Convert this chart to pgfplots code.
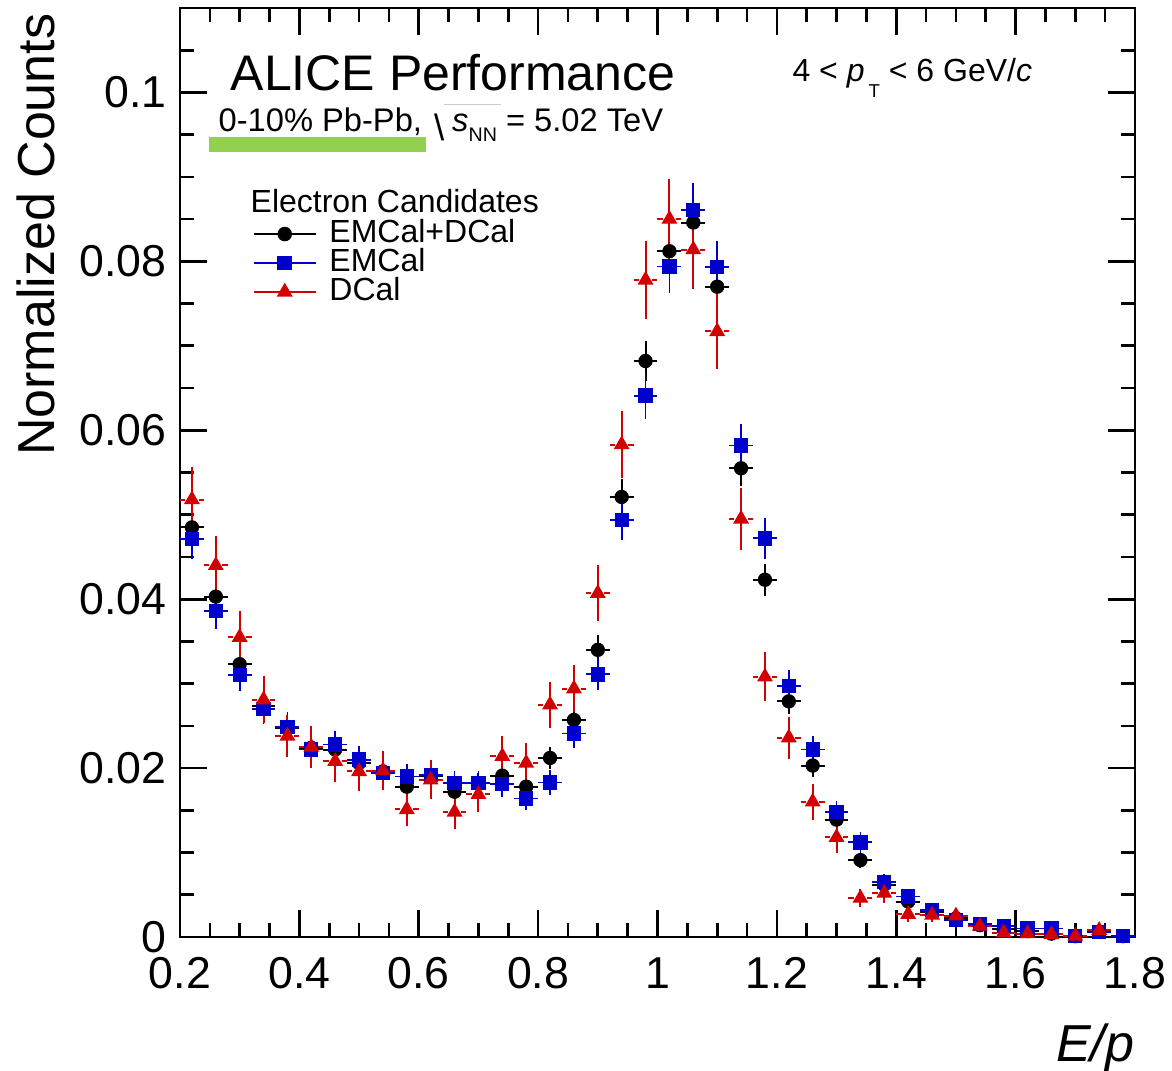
\documentclass[border=0pt]{standalone}
\usepackage{pgfplots}
\usepackage{pgfplotstable}
\pgfplotsset{compat=1.18}
\usepackage{fontspec}
\setmainfont{Liberation Sans}
\definecolor{rblue}{RGB}{0,0,204}
\definecolor{rred}{RGB}{210,0,0}
\definecolor{lgreen}{RGB}{146,208,80}

\pgfplotstableread{
x y ey
0.22 0.0485 0.0020
0.26 0.0403 0.0018
0.30 0.0323 0.0016
0.34 0.0273 0.0015
0.38 0.0247 0.0014
0.42 0.0224 0.0013
0.46 0.0222 0.0013
0.50 0.0206 0.0013
0.54 0.0196 0.0013
0.58 0.0178 0.0012
0.62 0.0191 0.0012
0.66 0.0172 0.0012
0.70 0.0182 0.0012
0.74 0.0191 0.0012
0.78 0.0178 0.0012
0.82 0.0212 0.0013
0.86 0.0257 0.0014
0.90 0.0340 0.0017
0.94 0.0521 0.0021
0.98 0.0682 0.0024
1.02 0.0812 0.0026
1.06 0.0846 0.0026
1.10 0.0770 0.0025
1.14 0.0555 0.0021
1.18 0.0423 0.0019
1.22 0.0279 0.0015
1.26 0.0203 0.0013
1.30 0.0139 0.0011
1.34 0.0091 0.0009
1.38 0.0062 0.0007
1.42 0.0042 0.0006
1.46 0.0030 0.0005
1.50 0.0022 0.0004
1.54 0.0014 0.0003
1.58 0.0009 0.0003
1.62 0.0007 0.0002
1.66 0.0004 0.0002
1.70 0.0001 0.0001
1.74 0.0006 0.0002
1.78 0.0001 0.0001
}\tabAll

\pgfplotstableread{
x y ey
0.22 0.0471 0.0024
0.26 0.0386 0.0021
0.30 0.0310 0.0019
0.34 0.0270 0.0018
0.38 0.0249 0.0017
0.42 0.0222 0.0016
0.46 0.0228 0.0016
0.50 0.0210 0.0016
0.54 0.0194 0.0015
0.58 0.0190 0.0015
0.62 0.0192 0.0015
0.66 0.0182 0.0015
0.70 0.0182 0.0015
0.74 0.0181 0.0015
0.78 0.0164 0.0014
0.82 0.0183 0.0015
0.86 0.0241 0.0017
0.90 0.0311 0.0019
0.94 0.0494 0.0024
0.98 0.0641 0.0028
1.02 0.0794 0.0031
1.06 0.0861 0.0032
1.10 0.0793 0.0031
1.14 0.0582 0.0026
1.18 0.0472 0.0024
1.22 0.0297 0.0019
1.26 0.0222 0.0016
1.30 0.0148 0.0013
1.34 0.0112 0.0012
1.38 0.0065 0.0009
1.42 0.0048 0.0008
1.46 0.0032 0.0006
1.50 0.0020 0.0005
1.54 0.0015 0.0004
1.58 0.0013 0.0004
1.62 0.0010 0.0003
1.66 0.0010 0.0003
1.70 0.0001 0.0001
1.74 0.0006 0.0003
1.78 0.0001 0.0001
}\tabEMC

\pgfplotstableread{
x y ey
0.22 0.0518 0.0038
0.26 0.0440 0.0035
0.30 0.0355 0.0031
0.34 0.0281 0.0028
0.38 0.0238 0.0025
0.42 0.0225 0.0025
0.46 0.0208 0.0024
0.50 0.0196 0.0023
0.54 0.0197 0.0023
0.58 0.0151 0.0020
0.62 0.0186 0.0023
0.66 0.0148 0.0020
0.70 0.0169 0.0021
0.74 0.0214 0.0024
0.78 0.0206 0.0024
0.82 0.0275 0.0027
0.86 0.0294 0.0028
0.90 0.0407 0.0033
0.94 0.0583 0.0040
0.98 0.0778 0.0046
1.02 0.0850 0.0048
1.06 0.0814 0.0047
1.10 0.0717 0.0044
1.14 0.0495 0.0037
1.18 0.0308 0.0029
1.22 0.0236 0.0025
1.26 0.0160 0.0021
1.30 0.0118 0.0018
1.34 0.0046 0.0011
1.38 0.0052 0.0012
1.42 0.0027 0.0009
1.46 0.0026 0.0008
1.50 0.0025 0.0008
1.54 0.0013 0.0006
1.58 0.0005 0.0004
1.62 0.0004 0.0003
1.66 0.0003 0.0003
1.70 0.0001 0.0002
1.74 0.0008 0.0005
}\tabDC

\begin{document}
\begin{tikzpicture}
\useasboundingbox (-54pt,-40.2pt) rectangle (297.6pt,281.1pt);
\begin{axis}[
  at={(0pt,0pt)}, anchor=south west,
  scale only axis, width=286.5pt, height=278.7pt,
  xmin=0.2, xmax=1.8, ymin=0, ymax=0.11,
  clip=false,
  axis line style={line width=0.8pt},
  every tick/.style={black, line width=0.8pt},
  major tick length=8.1pt, minor tick length=4.2pt,
  xtick={0.2,0.4,0.6,0.8,1.0,1.2,1.4,1.6,1.8},
  xticklabels={0.2,0.4,0.6,0.8,1,1.2,1.4,1.6,1.8},
  ytick={0,0.02,0.04,0.06,0.08,0.1},
  yticklabels={0,0.02,0.04,0.06,0.08,0.1},
  extra y ticks={0.105}, extra y tick labels={},
  extra y tick style={major tick length=4.2pt},
  minor x tick num=3, minor y tick num=3,
  scaled y ticks=false, scaled x ticks=false,
  /pgf/number format/assume math mode=true,
  tick label style={font=\fontsize{13.4}{14}\selectfont},
  xticklabel style={inner sep=0pt, yshift=-6pt},
  yticklabel style={inner sep=0pt, xshift=-3.9pt},
  legend image code/.code={\draw[#1, mark repeat=2, mark phase=2] plot coordinates {(0pt,0pt) (9.3pt,0pt) (18.6pt,0pt)};},
  legend cell align=left,
  legend style={at={(axis cs:0.3223,0.08495)}, anchor=north west, draw=none, fill=none,
    inner sep=0pt, outer sep=0pt, row sep=0pt, column sep=3.9pt,
    font=\fontsize{9.6}{9.6}\selectfont,
    nodes={inner sep=0pt, text height=6.9pt, text depth=1.8pt}},
]
\addlegendimage{black, line width=0.45pt, mark=*, mark size=1.95pt, mark options={solid}}
\addlegendentry{EMCal+DCal}
\addlegendimage{rblue, line width=0.45pt, mark=square*, mark size=1.95pt, mark options={solid}}
\addlegendentry{EMCal}
\addlegendimage{rred, line width=0.45pt, mark=triangle*, mark size=2.35pt, mark options={solid}}
\addlegendentry{DCal}

\addplot[forget plot, only marks, black, mark=*, mark size=1.95pt,
  error bars/.cd, x dir=both, x fixed=0.02, y dir=both, y explicit,
  error bar style={line width=0.6pt}, error mark=none]
  table[x=x, y=y, y error=ey] {\tabAll};
\addplot[forget plot, only marks, rblue, mark=square*, mark size=1.95pt,
  error bars/.cd, x dir=both, x fixed=0.02, y dir=both, y explicit,
  error bar style={line width=0.55pt}, error mark=none]
  table[x=x, y=y, y error=ey] {\tabEMC};
\addplot[forget plot, only marks, rred, mark=*, mark size=0pt,
  error bars/.cd, x dir=both, x fixed=0.02,
  error bar style={line width=0.6pt, dash pattern=on 0pt off 2pt on 1.6pt off 10pt}, error mark=none]
  table[x=x, y=y] {\tabDC};
\addplot[forget plot, only marks, rred, mark=triangle*, mark size=2.35pt,
  error bars/.cd, y dir=both, y explicit,
  error bar style={line width=0.6pt}, error mark=none]
  table[x=x, y=y, y error=ey] {\tabDC};

\fill[lgreen] (axis cs:0.2486,0.09289) rectangle (axis cs:0.6121,0.09467);
\node[anchor=base west, inner sep=0pt, font=\fontsize{15}{15}\selectfont] at (axis cs:0.2838,0.1002) {ALICE Performance};
\node[anchor=base west, inner sep=0pt, font=\fontsize{9.8}{9.8}\selectfont] at (axis cs:0.2637,0.0954)
  {0-10\% Pb-Pb,\hspace{3.6pt}\raisebox{-2.8pt}{\fontsize{11}{11}\selectfont\textbackslash}\rlap{\color{black!20}\rule[8pt]{17pt}{0.3pt}}\kern2.4pt\textit{s}\raisebox{-3pt}{\fontsize{5.9}{6}\selectfont NN} = 5.02 TeV};
\node[anchor=base west, inner sep=0pt, font=\fontsize{9.6}{9.6}\selectfont] at (axis cs:1.2251,0.10134)
  {4 < \textit{p}\kern1.2pt\raisebox{-4.8pt}{\fontsize{5.6}{5.6}\selectfont T} < 6 GeV/\textit{c}};
\node[anchor=base west, inner sep=0pt, font=\fontsize{9.6}{9.6}\selectfont] at (axis cs:0.3173,0.08578) {Electron Candidates};
\node[anchor=base east, inner sep=0pt, font=\fontsize{15.6}{15.6}\selectfont\itshape] at ([yshift=-37.5pt]rel axis cs:1,0) {E/p};
\node[rotate=90, anchor=base east, inner sep=0pt, font=\fontsize{15.6}{15.6}\selectfont] at ([xshift=-37.5pt, yshift=-1.5pt]rel axis cs:0,1) {Normalized Counts};
\end{axis}
\end{tikzpicture}
\end{document}
